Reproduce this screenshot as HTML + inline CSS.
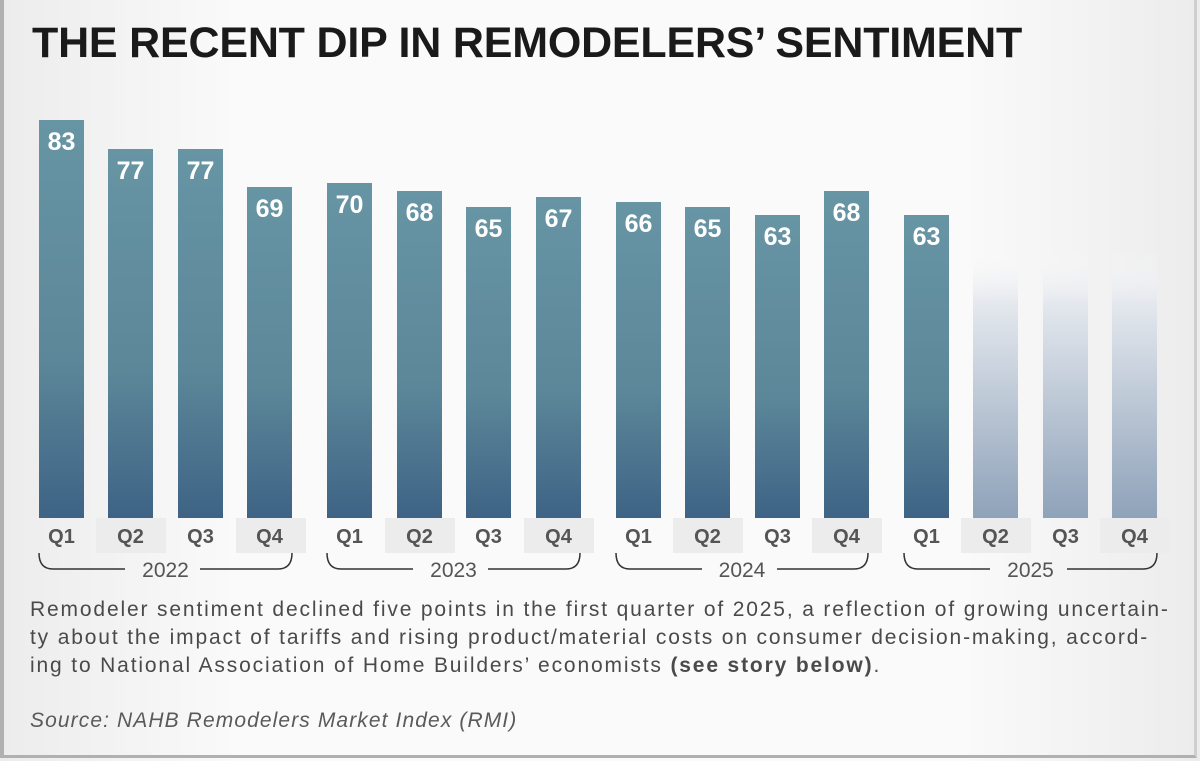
<!DOCTYPE html>
<html><head><meta charset="utf-8"><style>
html,body{margin:0;padding:0}
body{width:1200px;height:761px;position:relative;overflow:hidden;font-family:"Liberation Sans",sans-serif;background:linear-gradient(90deg,#ececec,#fafafa 20%,#fafafa 80%,#ececec)}
.frame{position:absolute;left:0;top:0;width:1197px;height:758px;border-left:4px solid #b0b0b0;border-bottom:3px solid #b0b0b0;border-right:3px solid #cfcfcf;box-sizing:border-box}
.title{position:absolute;left:32px;top:19px;font-size:43px;font-weight:bold;color:#1a1a1a;letter-spacing:-0.2px;white-space:nowrap}
.para{position:absolute;left:30px;top:596px;width:1170px;font-size:21px;line-height:28px;color:#4a4a4a;letter-spacing:1.85px;white-space:nowrap}
.src{position:absolute;left:30px;top:709px;font-size:21px;font-style:italic;color:#5a5a5a;letter-spacing:1.1px}
</style></head><body>
<div class="frame"></div>
<div class="title">THE RECENT DIP IN REMODELERS’ SENTIMENT</div>
<svg width="1200" height="761" style="position:absolute;left:0;top:0">
<defs>
<linearGradient id="g" x1="0" y1="0" x2="0" y2="1"><stop offset="0" stop-color="#6795a4"/><stop offset="0.6" stop-color="#5c8799"/><stop offset="1" stop-color="#3e6385"/></linearGradient>
<linearGradient id="f" x1="0" y1="0" x2="0" y2="1"><stop offset="0" stop-color="#fafafa" stop-opacity="0"/><stop offset="0.2" stop-color="#e4e8ee"/><stop offset="1" stop-color="#8ea2b9"/></linearGradient>
</defs>
<g font-family="Liberation Sans, sans-serif">
<g fill="#ececec">
<rect x="96" y="518" width="70" height="35"/><rect x="236" y="518" width="70" height="35"/>
<rect x="385" y="518" width="70" height="35"/><rect x="524" y="518" width="70" height="35"/>
<rect x="673" y="518" width="70" height="35"/><rect x="812" y="518" width="70" height="35"/>
<rect x="961" y="518" width="70" height="35"/><rect x="1100" y="518" width="70" height="35"/>
</g>
<g fill="url(#g)">
<rect x="39" y="120" width="45" height="398"/>
<rect x="108" y="149" width="45" height="369"/>
<rect x="178" y="149" width="45" height="369"/>
<rect x="247" y="187" width="45" height="331"/>
<rect x="327" y="183" width="45" height="335"/>
<rect x="397" y="191" width="45" height="327"/>
<rect x="466" y="207" width="45" height="311"/>
<rect x="536" y="197" width="45" height="321"/>
<rect x="616" y="202" width="45" height="316"/>
<rect x="685" y="207" width="45" height="311"/>
<rect x="755" y="215" width="45" height="303"/>
<rect x="824" y="191" width="45" height="327"/>
<rect x="904" y="215" width="45" height="303"/>
</g>
<g fill="url(#f)">
<rect x="973" y="250" width="45" height="268"/>
<rect x="1043" y="250" width="45" height="268"/>
<rect x="1112" y="250" width="45" height="268"/>
</g>
<g fill="#fff" font-size="25" font-weight="bold" text-anchor="middle">
<text x="61.5" y="150">83</text><text x="130.5" y="179">77</text><text x="200.5" y="179">77</text><text x="269.5" y="217">69</text>
<text x="349.5" y="213">70</text><text x="419.5" y="221">68</text><text x="488.5" y="237">65</text><text x="558.5" y="227">67</text>
<text x="638.5" y="232">66</text><text x="707.5" y="237">65</text><text x="777.5" y="245">63</text><text x="846.5" y="221">68</text>
<text x="926.5" y="245">63</text>
</g>
<g fill="#555" font-size="20" font-weight="bold" text-anchor="middle">
<text x="61.5" y="543">Q1</text><text x="130.5" y="543">Q2</text><text x="200.5" y="543">Q3</text><text x="269.5" y="543">Q4</text>
<text x="349.5" y="543">Q1</text><text x="419.5" y="543">Q2</text><text x="488.5" y="543">Q3</text><text x="558.5" y="543">Q4</text>
<text x="638.5" y="543">Q1</text><text x="707.5" y="543">Q2</text><text x="777.5" y="543">Q3</text><text x="846.5" y="543">Q4</text>
<text x="926.5" y="543">Q1</text><text x="995.5" y="543">Q2</text><text x="1065.5" y="543">Q3</text><text x="1134.5" y="543">Q4</text>
</g>
<g fill="none" stroke="#333" stroke-width="1.5">
<path d="M39 553 q0 16 14 16 H125 M200 569 H278 q14 0 14 -16"/>
<path d="M327 553 q0 16 14 16 H413 M488 569 H566 q14 0 14 -16"/>
<path d="M616 553 q0 16 14 16 H702 M777 569 H854 q14 0 14 -16"/>
<path d="M904 553 q0 16 14 16 H990 M1067 569 H1143 q14 0 14 -16"/>
</g>
<g fill="#555" font-size="21" text-anchor="middle">
<text x="165.5" y="577">2022</text><text x="453.5" y="577">2023</text><text x="742" y="577">2024</text><text x="1030.5" y="577">2025</text>
</g>
</g>
</svg>
<div class="para">Remodeler sentiment declined five points in the first quarter of 2025, a reflection of growing uncertain-<br>ty about the impact of tariffs and rising product/material costs on consumer decision-making, accord-<br>ing to National Association of Home Builders’ economists <b>(see story below)</b>.</div>
<div class="src">Source: NAHB Remodelers Market Index (RMI)</div>
</body></html>
